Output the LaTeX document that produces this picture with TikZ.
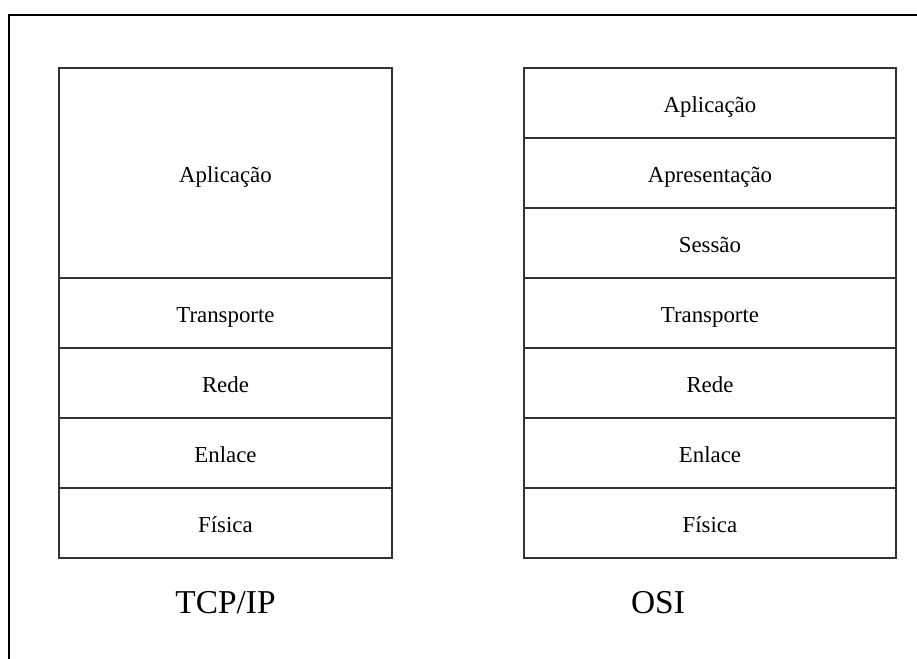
\documentclass[tikz,border=0pt]{standalone}
\usepackage{fontspec}
\setmainfont{Liberation Serif}
\usepackage{tikz}
\usetikzlibrary{positioning}

\tikzset{
  layer/.style={draw=black!80, line width=1.1pt, rectangle, inner sep=0pt, outer sep=0pt,
    minimum height=1.4cm, text height=2.4ex, text depth=0ex, font=\fontsize{13}{15}\selectfont},
  tcplayer/.style={layer, minimum width=6.66cm},
  osilayer/.style={layer, minimum width=7.44cm},
  stackname/.style={font=\fontsize{19}{22}\selectfont}
}

\begin{document}
\begin{tikzpicture}[x=0.02cm, y=-0.02cm]
            \useasboundingbox (0,0) rectangle (917,659);
            \draw[line width=0.9pt] (9,700) -- (9,15) -- (930,15);

            % TCP/IP
            \node[tcplayer, minimum height=4.2cm, anchor=north west] (tapp) at (59,68) {Aplicação};
            \node[tcplayer, below=0pt of tapp] (ttrans) {Transporte};
            \node[tcplayer, below=0pt of ttrans] (trede) {Rede};
            \node[tcplayer, below=0pt of trede] (tenl) {Enlace};
            \node[tcplayer, below=0pt of tenl] (tfis) {Física};
            \node[stackname] (tname) at (225.5,603) {TCP/IP};

            % OSI
            \node[osilayer, anchor=north west] (oapp) at (524,68) {Aplicação};
            \node[osilayer, below=0pt of oapp] (oapr) {Apresentação};
            \node[osilayer, below=0pt of oapr] (oses) {Sessão};
            \node[osilayer, below=0pt of oses] (otrans) {Transporte};
            \node[osilayer, below=0pt of otrans] (orede) {Rede};
            \node[osilayer, below=0pt of orede] (oenl) {Enlace};
            \node[osilayer, below=0pt of oenl] (ofis) {Física};
            \node[stackname] (oname) at (658,603) {OSI};
\end{tikzpicture}
\end{document}
